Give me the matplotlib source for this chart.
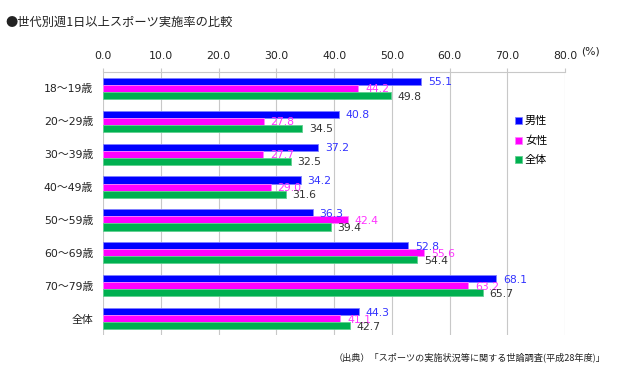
import matplotlib.pyplot as plt
import numpy as np

categories = ['18～19歳', '20～29歳', '30～39歳', '40～49歳', '50～59歳', '60～69歳', '70～79歳', '全体']
male = [55.1, 40.8, 37.2, 34.2, 36.3, 52.8, 68.1, 44.3]
female = [44.2, 27.8, 27.7, 29.0, 42.4, 55.6, 63.2, 41.1]
total = [49.8, 34.5, 32.5, 31.6, 39.4, 54.4, 65.7, 42.7]
series_names = ['男性', '女性', '全体']

jp = ['Noto Sans CJK JP', 'DejaVu Sans']
num = ['DejaVu Sans', 'Noto Sans CJK JP']

fig = plt.figure(figsize=(6.28, 3.79), dpi=100)
ax = fig.add_axes([0.164, 0.116, 0.736, 0.694])

y = np.arange(len(categories)) + 0.5
h = 0.215
colors = ['#0000ff', '#ff00ff', '#00b050']
edges = ['#8080ff', '#ff80ff', '#60d090']
label_colors = ['#3333ff', '#ff33ff', '#333333']
series = [male, female, total]

for i, (vals, c, ec, lc, name) in enumerate(zip(series, colors, edges, label_colors, series_names)):
    ypos = y + (i - 1) * h
    ax.barh(ypos, vals, height=h, color=c, edgecolor=ec, linewidth=0.6, label=name, zorder=3)
    for yy, v in zip(ypos, vals):
        ax.text(v + 1.2, yy + 0.03, f'{v:.1f}', color=lc, fontsize=7.8, family=num,
                va='center', ha='left', zorder=4)

ax.set_xlim(0, 80)
ax.set_ylim(len(categories), 0)
ax.set_xticks(np.arange(0, 81, 10))
ax.set_xticklabels([f'{t:.1f}' for t in np.arange(0, 81, 10)], family=num, fontsize=7.8)
ax.xaxis.tick_top()
ax.tick_params(axis='x', length=3, color='#c8c8c8', pad=5, labelcolor='#222222')
ax.set_yticks(y)
ax.set_yticklabels(categories, family=num, fontsize=7.8, color='#222222')
ax.tick_params(axis='y', length=0, pad=7)
ax.grid(axis='x', color='#c8c8c8', linewidth=0.8, zorder=0)
for s in ['left', 'right', 'bottom']:
    ax.spines[s].set_visible(False)
ax.spines['top'].set_color('#c8c8c8')

fig.text(581 / 628, 1 - 51 / 379, '(%)', family=num, fontsize=7.8, ha='left', va='center',
         color='#222222')
fig.text(5 / 628, 1 - 22 / 379, '●世代別週1日以上スポーツ実施率の比較', family=jp, fontsize=8.8,
         ha='left', va='center', color='#222222')
fig.text(606 / 628, 1 - 357 / 379, '（出典）「スポーツの実施状況等に関する世論調査(平成28年度)」',
         family=jp, fontsize=6.6, ha='right', va='center', color='#222222')

leg = ax.legend(loc='upper left', bbox_to_anchor=(505 / 628, 1 - 106 / 379),
                bbox_transform=fig.transFigure, frameon=False, prop={'family': jp, 'size': 8},
                handlelength=0.6, handleheight=0.6, handletextpad=0.3, labelspacing=0.85)

fig.savefig('out.png', dpi=100)
